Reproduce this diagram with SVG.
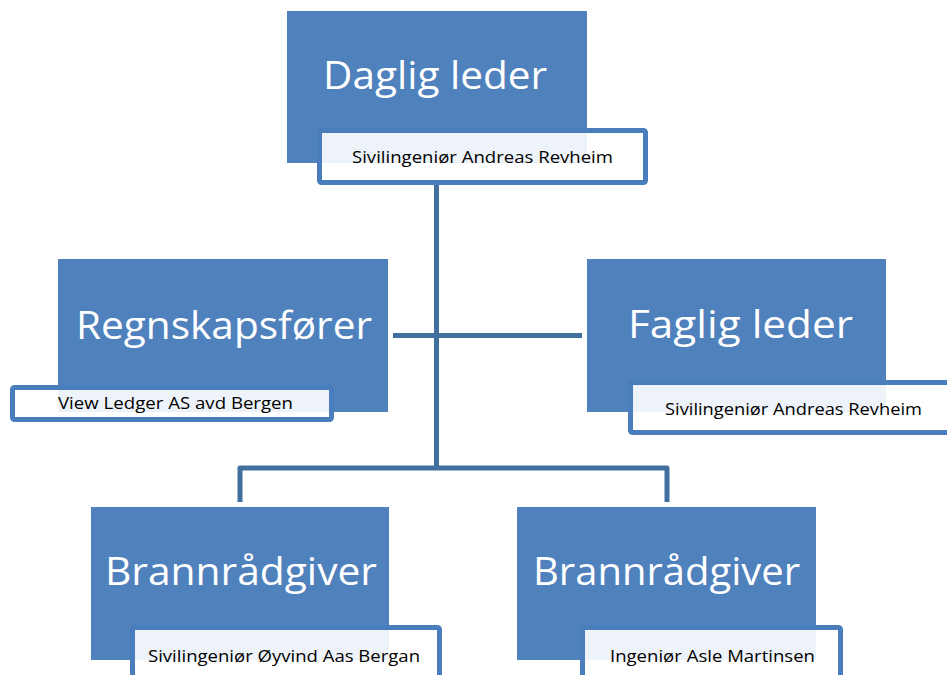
<svg xmlns="http://www.w3.org/2000/svg" width="947" height="675" viewBox="0 0 947 675">
  <style>
    .box { fill: #4f81bd; }
    .sub { fill: #ffffff; fill-opacity: 0.9; stroke: #4a7dbb; stroke-width: 5; }
    .title { font-family: "Open Sans", "Noto Sans", sans-serif; font-size: 38px; fill: #ffffff; }
    .subt { font-family: "Open Sans", "Noto Sans", sans-serif; font-size: 17px; fill: #000000; }
    .conn { fill: none; stroke: #41709f; stroke-width: 5; stroke-linejoin: round; }
  </style>
  <rect x="0" y="0" width="947" height="675" fill="#ffffff"/>

  <g id="connectors">
    <path class="conn" d="M436.5 182 V468"/>
    <path class="conn" d="M393 335.5 H582"/>
    <path class="conn" d="M240 502 V468 H667 V502"/>
  </g>

  <g id="daglig-leder">
    <rect class="box" x="287" y="11" width="300" height="152"/>
    <text class="title" x="323" y="89" textLength="224" lengthAdjust="spacingAndGlyphs">Daglig leder</text>
    <rect class="sub" x="319.5" y="130.5" width="326" height="52" rx="2"/>
    <text class="subt" x="352" y="163" textLength="261" lengthAdjust="spacingAndGlyphs">Sivilingeniør Andreas Revheim</text>
  </g>

  <g id="regnskapsforer">
    <rect class="box" x="58" y="259" width="330" height="153"/>
    <text class="title" x="76" y="339" textLength="296" lengthAdjust="spacingAndGlyphs">Regnskapsfører</text>
    <rect class="sub" x="12.5" y="387.5" width="319" height="32" rx="2"/>
    <text class="subt" x="58" y="409" textLength="235" lengthAdjust="spacingAndGlyphs">View Ledger AS avd Bergen</text>
  </g>

  <g id="faglig-leder">
    <rect class="box" x="587" y="259" width="299" height="153"/>
    <text class="title" x="628" y="338" textLength="225" lengthAdjust="spacingAndGlyphs">Faglig leder</text>
    <rect class="sub" x="630.5" y="382.5" width="330" height="50" rx="2"/>
    <text class="subt" x="665" y="415" textLength="257" lengthAdjust="spacingAndGlyphs">Sivilingeniør Andreas Revheim</text>
  </g>

  <g id="brannradgiver-1">
    <rect class="box" x="91" y="507" width="298" height="153"/>
    <text class="title" x="105" y="585" textLength="272" lengthAdjust="spacingAndGlyphs">Brannrådgiver</text>
    <rect class="sub" x="132.5" y="627.5" width="307" height="60" rx="2"/>
    <text class="subt" x="148" y="662" textLength="272" lengthAdjust="spacingAndGlyphs">Sivilingeniør Øyvind Aas Bergan</text>
  </g>

  <g id="brannradgiver-2">
    <rect class="box" x="517" y="507" width="299" height="153"/>
    <text class="title" x="533" y="585" textLength="267" lengthAdjust="spacingAndGlyphs">Brannrådgiver</text>
    <rect class="sub" x="582.5" y="627.5" width="258" height="60" rx="2"/>
    <text class="subt" x="610" y="662" textLength="205" lengthAdjust="spacingAndGlyphs">Ingeniør Asle Martinsen</text>
  </g>
</svg>
